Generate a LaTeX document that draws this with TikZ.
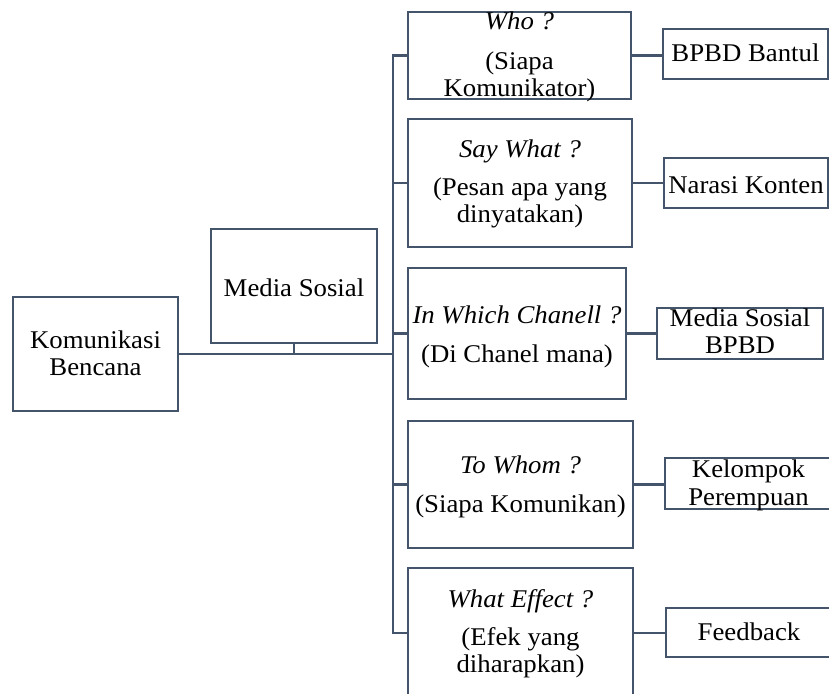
\documentclass[tikz,border=0pt]{standalone}
\usepackage{fontspec}
\setmainfont[FakeStretch=1.05]{Liberation Serif}
\definecolor{ln}{HTML}{44546A}
\begin{document}
\begin{tikzpicture}[x=1pt,y=-1pt,
  box/.style={draw=ln,line width=2.3pt,fill=white,inner sep=0pt},
  conn/.style={draw=ln,line width=2.3pt},
  txt/.style={anchor=base,inner sep=0pt,font=\fontsize{25.5}{27}\selectfont},
  ttl/.style={anchor=base,inner sep=0pt,font=\fontsize{25.5}{27}\selectfont\itshape}]
\useasboundingbox (0,0) rectangle (829,693);
\clip (0,0) rectangle (829,693);
% boxes
\node[box,minimum width=165pt,minimum height=114pt] (kom) at (95.5,354) {};
\node[box,minimum width=166pt,minimum height=114pt] (med) at (294,286) {};
\node[box,minimum width=223pt,minimum height=87pt] (who) at (519.5,55.5) {};
\node[box,minimum width=224pt,minimum height=128pt] (say) at (520,183) {};
\node[box,minimum width=218pt,minimum height=131pt] (chn) at (517,333.5) {};
\node[box,minimum width=225pt,minimum height=127pt] (whom) at (520.5,484.5) {};
\node[box,minimum width=225pt,minimum height=130pt] (eff) at (520.5,633) {};
\node[box,minimum width=165pt,minimum height=50pt] (bpbd) at (745.5,54) {};
\node[box,minimum width=164pt,minimum height=50pt] (nar) at (746,183) {};
\node[box,minimum width=166pt,minimum height=51pt] (msb) at (740,333.5) {};
\node[box,minimum width=167pt,minimum height=51pt] (kel) at (748.5,483.5) {};
\node[box,minimum width=166pt,minimum height=49pt] (fb) at (749,632.5) {};
% texts
\node[txt] (kom1) at (95.5,348) {Komunikasi};
\node[txt] (kom2) at (95.5,375) {Bencana};
\node[txt] (med1) at (294,296) {Media Sosial};
\node[ttl] (who1) at (519.5,30) {Who ?};
\node[txt] (who2) at (519.5,69) {(Siapa};
\node[txt] (who3) at (519.5,96) {Komunikator)};
\node[ttl] (say1) at (520,157) {Say What ?};
\node[txt] (say2) at (520,195) {(Pesan apa yang};
\node[txt] (say3) at (520,222) {dinyatakan)};
\node[ttl] (chn1) at (517,323) {In Which Chanell ?};
\node[txt] (chn2) at (517,362) {(Di Chanel mana)};
\node[ttl] (whom1) at (520.5,473) {To Whom ?};
\node[txt] (whom2) at (520.5,512) {(Siapa Komunikan)};
\node[ttl] (eff1) at (520.5,607) {What Effect ?};
\node[txt] (eff2) at (520.5,645) {(Efek yang};
\node[txt] (eff3) at (520.5,672) {diharapkan)};
\node[txt] (bpbd1) at (745.5,62) {BPBD Bantul};
\node[txt] (nar1) at (746,193) {Narasi Konten};
\node[txt] (msb1) at (740,326) {Media Sosial};
\node[txt] (msb2) at (740,353) {BPBD};
\node[txt] (kel1) at (748.5,477) {Kelompok};
\node[txt] (kel2) at (748.5,505) {Perempuan};
\node[txt] (fb1) at (749,640) {Feedback};
% connectors
\coordinate (tx) at (393,0);
\draw[conn] (who.west) -- (who.west -| tx) -- (eff.west -| tx) -- (eff.west);
\draw[conn] (kom.east) -- (kom.east -| tx);
\draw[conn] (med.south) -- (med.south |- kom.east);
\foreach \b in {say,chn,whom} \draw[conn] (\b.west) -- (\b.west -| tx);
\draw[conn] (who.east) -- (who.east -| bpbd.west);
\draw[conn] (say.east) -- (say.east -| nar.west);
\draw[conn] (chn.east) -- (chn.east -| msb.west);
\draw[conn] (whom.east) -- (whom.east -| kel.west);
\draw[conn] (eff.east) -- (eff.east -| fb.west);
\end{tikzpicture}
\end{document}
